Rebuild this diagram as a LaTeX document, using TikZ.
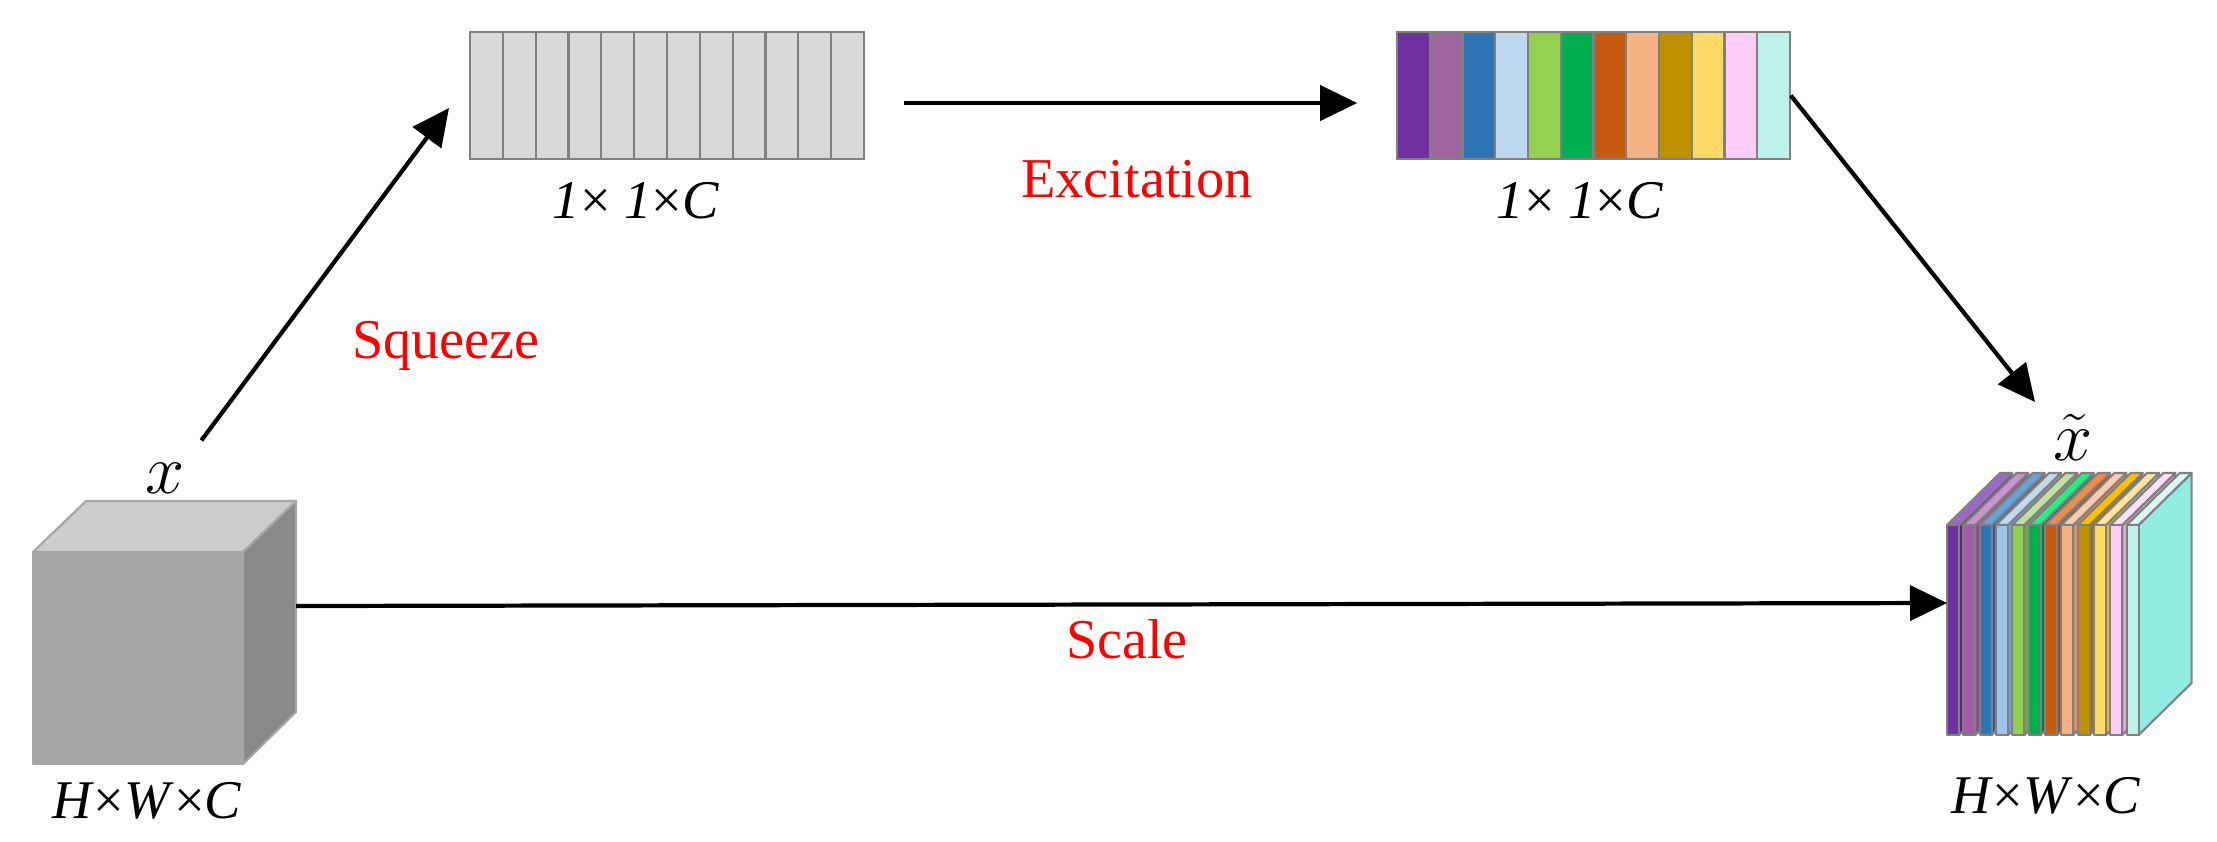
\RequirePackage{fix-cm}
\documentclass[tikz,border=0pt]{standalone}
\usepackage{fontspec}
\setmainfont{Liberation Serif}
\usetikzlibrary{arrows.meta,positioning}
\definecolor{Edge}{HTML}{808080}
\definecolor{CellGray}{HTML}{D9D9D9}
\definecolor{CubeTop}{HTML}{CCCCCC}
\definecolor{CubeFront}{HTML}{A5A5A5}
\definecolor{CubeSide}{HTML}{898989}
\definecolor{CubeEdge}{HTML}{A6A6A6}
\tikzset{
  cellbox/.style={draw=Edge, line width=0.6pt},
  slicebox/.style={draw=Edge, line width=0.6pt, line join=round},
  cubeface/.style={draw=CubeEdge, line width=0.6pt, line join=round},
  dimlabel/.style={inner sep=0pt, font=\fontsize{15.5}{18}\selectfont},
  varlabel/.style={inner sep=0pt, font=\fontsize{20}{24}\selectfont},
  oplabel/.style={inner sep=0pt, text=red, font=\fontsize{16}{19}\selectfont},
  flow/.style={-{Triangle[length=0.37cm,width=0.35cm]}, line width=1.2pt}
}
\begin{document}
\begin{tikzpicture}[x=0.01cm,y=-0.01cm]
  \useasboundingbox (0,0) rectangle (2217,841);
  % input feature map
  \draw[cubeface,fill=CubeTop] (33,552) -- ++(53,-51) -- (296,501) -- (243,552) -- cycle;
  \draw[cubeface,fill=CubeSide] (243,552) -- (296,501) -- (296,712) -- (243,764) -- cycle;
  \draw[cubeface,fill=CubeFront] (33,552) rectangle (243,764);
  \coordinate (cubeout) at (296,606);
  \node[varlabel,anchor=base] (xin) at (165,493) {$x$};
  \node[dimlabel,anchor=base] (hwcin) at (147,818) {\textit{H}×\textit{W}×\textit{C}};

  % squeezed vector
  \foreach \i in {0,...,11}
    \draw[cellbox,fill=CellGray] ({470+32.83*\i},32) rectangle ++(32.83,127);
  \node[minimum width=3.94cm,minimum height=1.27cm,inner sep=0pt] (sqz) at (667,95.5) {};
  \node[dimlabel,anchor=base] (sqzdim) at (636,218) {\textit{1}× \textit{1}×\textit{C}};

  % excited vector
  \foreach \c [count=\i from 0] in {7030A0,9E659E,2E75B6,BDD7EE,92D050,00B050,C55A11,F4B183,BF9000,FFD966,FFCCF5,BDF0E8} {
    \definecolor{cellfill}{HTML}{\c}
    \draw[cellbox,fill=cellfill] ({1397+32.75*\i},32) rectangle ++(32.75,127);
  }
  \node[minimum width=3.93cm,minimum height=1.27cm,inner sep=0pt] (exc) at (1593.5,95.5) {};
  \node[dimlabel,anchor=base] (excdim) at (1580,218) {\textit{1}× \textit{1}×\textit{C}};

  % rescaled output
  \foreach \f/\t/\s [count=\i from 0] in {7030A0/A066D0/5A2080,A55AA8/C896CC/8A4A8A,2E75B6/66A3DA/2A60A0,9DC3E6/C0DAF0/6FA8DC,92D050/BDE3A0/70B040,00B050/20F080/008040,C55A11/F08C48/A04A0C,F4B183/FACDB0/E09060,BF9000/FFC000/9A7400,FFD966/FFE49A/E8C040,FFCCF5/FFE0F8/E8A8E0,C0F0E8/D8F8F2/90EBE0} {
    \definecolor{slicefront}{HTML}{\f}
    \definecolor{slicetop}{HTML}{\t}
    \definecolor{sliceside}{HTML}{\s}
    \pgfmathsetmacro\xa{1947+16.33*\i}
    \draw[slicebox,fill=sliceside] (\xa+12,525) -- ++(53,-52) -- ++(0,210) -- (\xa+12,735) -- cycle;
    \draw[slicebox,fill=slicetop] (\xa,525) -- ++(53,-52) -- ++(12,0) -- (\xa+12,525) -- cycle;
    \draw[slicebox,fill=slicefront] (\xa,525) rectangle (\xa+12,735);
  }
  \coordinate (stackin) at (1947,603);
  \coordinate (outtip) at (2035,402);
  \node[varlabel,anchor=base] (xout) at (2073,460) {$\tilde{x}$};
  \node[dimlabel,anchor=base] (hwcout) at (2046,813) {\textit{H}×\textit{W}×\textit{C}};

  % operations
  \node[oplabel,anchor=base] (sqlab) at (446,358) {Squeeze};
  \node[oplabel,anchor=base] (exlab) at (1137,197) {Excitation};
  \node[oplabel,anchor=base] (sclab) at (1127,658) {Scale};
  \coordinate (sqztip) at (449,108);
  \draw[flow,shorten <=0.27cm] (xin.north east) -- (sqztip);
  \draw[flow] ([xshift=0.39cm,yshift=-0.075cm]sqz.east) -- ([xshift=-0.39cm,yshift=-0.075cm]exc.west);
  \draw[flow] (exc.east) -- (outtip);
  \draw[flow] (cubeout) -- (stackin);
\end{tikzpicture}
\end{document}
